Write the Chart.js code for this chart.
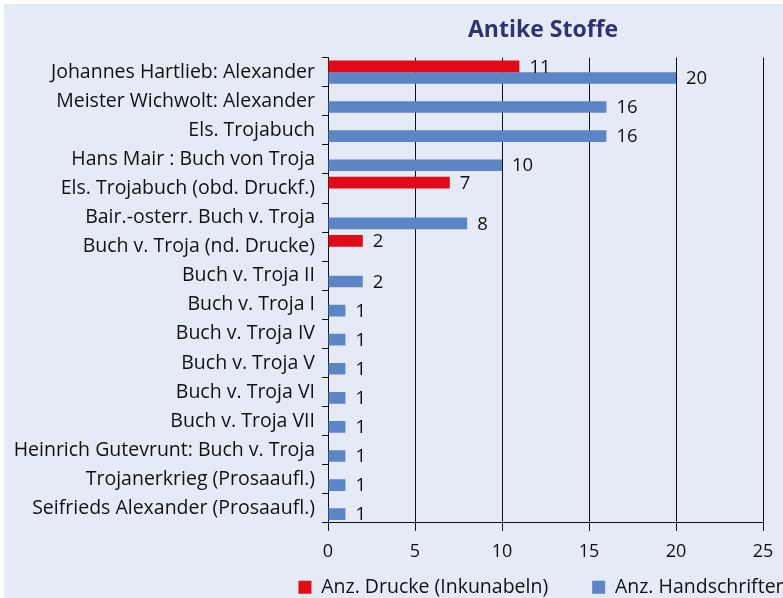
<!DOCTYPE html>
<html>
<head>
<meta charset="utf-8">
<script src="https://cdn.jsdelivr.net/npm/chart.js@4.4.1/dist/chart.umd.min.js"></script>
<style>
  html, body { margin: 0; padding: 0; background: #fff; overflow: hidden; }
  #wrap { position: absolute; left: 4px; top: 4px; width: 1078px; height: 603px; background: #e5ebf6; }
</style>
</head>
<body>
<div id="wrap"><canvas id="chart"></canvas></div>
<script>
var categories = [
    "Johannes Hartlieb: Alexander",
    "Meister Wichwolt: Alexander",
    "Els. Trojabuch",
    "Hans Mair : Buch von Troja",
    "Els. Trojabuch (obd. Druckf.)",
    "Bair.-osterr. Buch v. Troja",
    "Buch v. Troja (nd. Drucke)",
    "Buch v. Troja II",
    "Buch v. Troja I",
    "Buch v. Troja IV",
    "Buch v. Troja V",
    "Buch v. Troja VI",
    "Buch v. Troja VII",
    "Heinrich Gutevrunt: Buch v. Troja",
    "Trojanerkrieg (Prosaaufl.)",
    "Seifrieds Alexander (Prosaaufl.)"
];
var drucke = [11, null, null, null, 7, null, 2, null, null, null, null, null, null, null, null, null];
var handschriften = [20, 16, 16, 10, null, 8, null, 2, 1, 1, 1, 1, 1, 1, 1, 1];
var xTicks = [0, 5, 10, 15, 20, 25];

var fontFamily = "'Open Sans', sans-serif";
Chart.defaults.font.family = fontFamily;
Chart.defaults.color = '#111';

// value labels next to the bars
var valueLabels = {
    id: 'valueLabels',
    afterDatasetsDraw: function (chart) {
        var ctx = chart.ctx;
        ctx.save();
        ctx.font = "18.5px " + fontFamily;
        ctx.fillStyle = '#111';
        ctx.textAlign = 'left';
        ctx.textBaseline = 'middle';
        chart.data.datasets.forEach(function (ds, i) {
            chart.getDatasetMeta(i).data.forEach(function (bar, j) {
                if (ds.data[j] == null) return;
                ctx.fillText(ds.data[j], bar.x + 10, bar.y + 1);
            });
        });
        ctx.restore();
    }
};

var ctx = document.getElementById('chart').getContext('2d');
var chart = new Chart(ctx, {
    type: 'bar',
    data: {
        labels: categories,
        datasets: [{
            label: "Anz. Drucke (Inkunabeln)",
            data: drucke,
            backgroundColor: '#e20a17',
            categoryPercentage: 0.8,
            barPercentage: 1.0
        }, {
            label: "Anz. Handschriften",
            data: handschriften,
            backgroundColor: '#5b85c4',
            categoryPercentage: 0.8,
            barPercentage: 1.0
        }]
    },
    options: {
        indexAxis: 'y',
        responsive: true,
        maintainAspectRatio: false,
        animation: false,
        layout: { padding: 0 },
        scales: {
            x: {
                min: 0,
                max: 25,
                afterBuildTicks: function (axis) {
                    axis.ticks = xTicks.map(function (v) { return { value: v }; });
                },
                grid: { color: '#111', lineWidth: 1, tickLength: 8 },
                border: { color: '#111' },
                ticks: { font: { size: 18 }, color: '#111', padding: 10 }
            },
            y: {
                grid: { drawOnChartArea: false, color: '#111', tickLength: 6 },
                border: { color: '#111' },
                ticks: { font: { size: 19.5 }, color: '#111', padding: 7 },
                afterFit: function (axis) { axis.width = 324; }
            },
            // empty right-hand box so the plot stops at 25 while title and legend stay centred on the full width
            yRight: {
                type: 'category',
                position: 'right',
                grid: { display: false },
                border: { display: false },
                ticks: { display: false },
                afterFit: function (axis) { axis.width = 319; }
            }
        },
        plugins: {
            title: {
                display: true,
                text: 'Antike Stoffe',
                color: '#2e3472',
                font: { size: 23, weight: 'bold' },
                padding: { top: 13, bottom: 13 }
            },
            legend: {
                position: 'bottom',
                labels: {
                    boxWidth: 13,
                    boxHeight: 13,
                    padding: 5,
                    color: '#111',
                    font: { size: 19.5 },
                    generateLabels: function (chart) {
                        var items = Chart.defaults.plugins.legend.labels.generateLabels(chart);
                        items[0].text += '\u2003\u2003';
                        return items;
                    }
                }
            },
            tooltip: { enabled: false }
        }
    },
    plugins: [valueLabels]
});
</script>
</body>
</html>
